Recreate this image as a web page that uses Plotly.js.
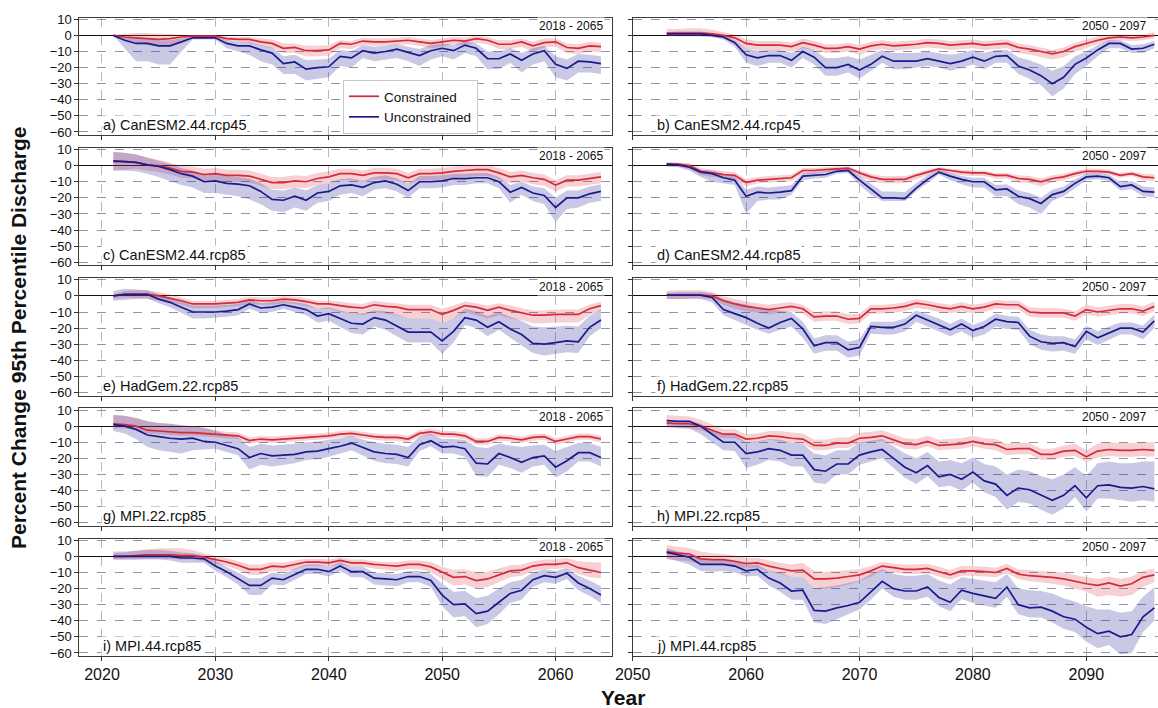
<!DOCTYPE html>
<html><head><meta charset="utf-8">
<script src="https://cdn.plot.ly/plotly-3.0.1.min.js"></script>
<style>body{margin:0;padding:0;background:#fff}#chart{width:1158px;height:708px}</style>
</head><body><div id="chart"></div>
<script>
// Years
const yearsLeft = [2021,2022,2023,2024,2025,2026,2027,2028,2029,2030,2031,2032,2033,2034,2035,2036,2037,2038,2039,2040,2041,2042,2043,2044,2045,2046,2047,2048,2049,2050,2051,2052,2053,2054,2055,2056,2057,2058,2059,2060,2061,2062,2063,2064];
const yearsRight = [2053,2054,2055,2056,2057,2058,2059,2060,2061,2062,2063,2064,2065,2066,2067,2068,2069,2070,2071,2072,2073,2074,2075,2076,2077,2078,2079,2080,2081,2082,2083,2084,2085,2086,2087,2088,2089,2090,2091,2092,2093,2094,2095,2096];
const ticksLeft = [2020,2030,2040,2050,2060];
const ticksRight = [2050,2060,2070,2080,2090];
const yTicks = [10,0,-10,-20,-30,-40,-50,-60];

// a) CanESM2.44.rcp45 (2018-2065)
const a_con    = [0,-1,-1.5,-2,-2.5,-2,-1,-0.5,-0.5,-0.5,-2,-2.5,-2.5,-4,-5,-8,-7.5,-9.5,-9.5,-9,-5,-5.5,-3.5,-4,-4,-3.5,-3,-4,-5,-4,-3,-3.5,-2,-3,-5.5,-5.5,-4,-6.5,-4.5,-4,-7.5,-8,-6.5,-7];
const a_con_hi = [0.5,1,1.5,1.5,1,1,0.5,0,0,0,-0.5,-1,-1,-2,-2.5,-5,-5,-6.5,-6.5,-6,-3,-3.5,-1.5,-2,-2,-1.5,-1,-2,-3,-2,-1,-1.5,0,-1,-3,-3,-2,-4,-2,-2,-5,-5.5,-4,-4.5];
const a_con_lo = [-0.5,-3,-5,-6,-7,-7,-3,-1.5,-1.5,-1.5,-3.5,-4,-4.5,-6.5,-8,-11,-11,-13,-13,-12.5,-8,-8.5,-6,-6.5,-6.5,-6,-5.5,-6.5,-8,-7,-5.5,-6,-4.5,-5.5,-8.5,-8.5,-7,-10,-7.5,-7,-11,-11.5,-10,-10.5];
const a_unc    = [0,-3,-5,-5,-6.5,-6.5,-4,-1.5,-1.5,-1.5,-5,-6.5,-6.5,-9,-11,-17.5,-16.5,-21,-20,-19.5,-13,-14,-9.5,-11,-10,-8.5,-10.5,-12.5,-9.5,-8,-9.5,-6,-8,-14.5,-14.5,-11.5,-15.5,-11.5,-9.5,-18,-20.5,-16,-16.5,-17.5];
const a_unc_hi = [0.5,-1,-2,-2,-3,-3,-2,-0.5,-0.5,-0.5,-3,-4,-4,-6,-7.5,-13,-12,-15.5,-15,-14.5,-9,-10,-6,-7,-6.5,-5.5,-7,-8.5,-6,-5,-6,-3.5,-5,-10,-10,-8,-11,-8,-6.5,-13,-15,-11.5,-12,-13];
const a_unc_lo = [0,-8,-16,-16,-18,-18,-10,-2.5,-2.5,-2.5,-8,-10,-12,-16,-18,-24,-24,-28,-27,-26,-19,-20,-14,-16,-15,-14,-16,-19,-15,-13,-15,-11,-13,-21,-21,-17,-23,-18,-16,-26,-28,-23,-23,-24];

// b) CanESM2.44.rcp45 (2050-2097)
const b_con    = [1.5,1.5,1.5,1.5,1,0,-1.5,-5,-6,-6,-6,-7,-4.5,-6,-8,-8,-7,-8.5,-6.5,-5.5,-6.5,-6,-5.5,-4.5,-5,-6,-5.5,-5,-6,-5.5,-5,-7.5,-8.5,-10,-11.5,-10,-7,-5,-3,-1.5,-1,-1.5,-1,0];
const b_con_hi = [4,4,4.5,4.5,3.5,2,0.5,-2.5,-3.5,-3.5,-3.5,-4.5,-2,-3.5,-5.5,-5.5,-4.5,-6,-4,-3,-4,-3.5,-3,-2,-2.5,-3.5,-3,-2.5,-3.5,-3,-2.5,-5,-6,-7.5,-9,-7.5,-4.5,-2.5,-0.5,0.5,1,0.5,1,2];
const b_con_lo = [-0.5,-0.5,-0.5,-0.5,-1,-2,-4,-8,-9,-9,-9,-10,-8,-9,-11,-11,-10,-12,-9.5,-8.5,-9.5,-9,-8.5,-7.5,-8,-9,-8.5,-8,-9,-8.5,-8,-11,-12,-13.5,-15,-13.5,-10,-8,-5.5,-4,-3,-3.5,-3,-2];
const b_unc    = [1,1,1,1,0,-1,-4.5,-12,-14,-12.5,-12.5,-15.5,-10,-13.5,-20,-20,-18,-21.5,-18,-13,-16,-16,-16,-14.5,-16,-17.5,-16,-13.5,-16,-13,-12.5,-19,-21.5,-25,-30,-26,-18,-14,-9,-5,-5,-8.5,-8,-5.5];
const b_unc_hi = [2,2.5,2.5,2.5,1.5,0,-3,-8,-9.5,-9,-9,-11,-7,-9,-14,-14,-13,-15,-12,-9,-11,-11,-11,-10,-11,-12,-11,-9,-11,-9,-9,-13.5,-15.5,-18,-22,-19,-13,-10,-6,-3,-3,-6,-5.5,-3.5];
const b_unc_lo = [0,-0.5,-0.5,-0.5,-1,-2.5,-7,-17,-19,-17,-17,-20,-14,-18,-25,-25,-23,-27,-22,-17,-21,-21,-20,-19,-20,-22,-20,-18,-21,-17,-17,-24,-27,-31,-38,-33,-24,-19,-13,-8,-8,-11,-11,-8];

// c) CanESM2.44.rcp85 (2018-2065)
const c_con    = [2.5,2.5,2,0.5,0,-1.5,-3.5,-4,-5.5,-5,-6,-6,-6.5,-8.5,-10.5,-10.5,-9.5,-10,-8,-7,-5,-5,-6,-4.5,-4.5,-5,-7.5,-5,-5,-4.5,-3.5,-3,-2.5,-2.5,-4.5,-7,-6,-7.5,-8.5,-12,-9,-9,-8,-7];
const c_con_hi = [8.5,8,7,5,3.5,2,0,-0.5,-2,-1.5,-2.5,-2.5,-3,-5,-7,-7,-6,-6.5,-4.5,-3.5,-2,-2,-3,-1.5,-1.5,-2,-4.5,-2,-2,-1.5,-0.5,0,0.5,0.5,-1.5,-4,-3,-4.5,-5.5,-9,-6,-6,-5,-4];
const c_con_lo = [-3,-2.5,-2,-3,-4,-5.5,-7.5,-8,-9.5,-9,-10,-10,-10.5,-12.5,-14.5,-14.5,-13.5,-14,-12,-11,-9,-9,-10,-8.5,-8.5,-9,-11.5,-9,-9,-8.5,-7.5,-7,-6.5,-6.5,-8.5,-11,-10,-11.5,-12.5,-16,-13,-13,-12,-11];
const c_unc    = [3,2.5,2,0.5,-0.5,-2.5,-5,-6.5,-10,-9.5,-11,-11.5,-12.5,-16,-21,-21.5,-19,-21.5,-17,-16,-12.5,-12,-13.5,-10.5,-9.5,-11.5,-15.5,-10,-10,-9.5,-8,-8,-7.5,-7.5,-10,-16.5,-13.5,-17,-18.5,-26,-20,-20,-17.5,-16];
const c_unc_hi = [8.5,8,7,5,3,1,-1.5,-3,-5.5,-5,-6.5,-7,-8,-11,-15,-15.5,-13.5,-15.5,-12,-11,-8.5,-8,-9.5,-7,-6,-8,-11.5,-6.5,-6.5,-6,-5,-5,-4.5,-4.5,-7,-12,-10,-13,-14,-20,-15.5,-15.5,-13,-11.5];
const c_unc_lo = [-3,-3,-3.5,-5,-7,-9.5,-12,-13.5,-17,-17,-18,-19,-21,-24,-28,-29,-26,-28,-23,-22,-18,-17,-19,-15,-14,-16,-20,-14,-14,-13.5,-12,-12,-11,-11,-14,-23,-18,-22,-24,-35,-27,-26,-23,-22];

// d) CanESM2.44.rcp85 (2050-2097)
const d_con    = [1,1,0,-3.5,-4.5,-5.5,-6,-10.5,-9,-8.5,-8,-7.5,-3,-3,-2.5,-2,-1.5,-4.5,-7,-8.5,-8.5,-8.5,-6,-4,-2,-3,-4,-4.5,-4.5,-6,-6,-8,-8.5,-10,-8,-7,-5,-3.5,-3.5,-4,-6,-5,-7,-7.5];
const d_con_hi = [2,2,1.5,-1.5,-2.5,-3.5,-4,-8.5,-7,-6.5,-6,-5.5,-1.5,-1.5,-1,-0.5,-0.5,-3,-5,-6.5,-6.5,-6.5,-4.5,-2.5,-1,-2,-2.5,-3,-3,-4.5,-4.5,-6,-6.5,-8,-6,-5,-3.5,-2,-2,-2.5,-4.5,-3.5,-5,-5.5];
const d_con_lo = [-0.5,-0.5,-2,-6,-7,-8,-8.5,-13,-11,-10.5,-10,-9.5,-5,-5,-4,-3.5,-3,-7,-9.5,-11,-11,-11,-8.5,-6,-3.5,-5,-6,-6.5,-6.5,-8,-8,-10.5,-11,-13,-10.5,-9,-7,-5.5,-5,-5.5,-7.5,-6.5,-9,-9.5];
const d_unc    = [1,0.5,-1,-4,-5,-7.5,-9,-19,-16.5,-17,-16.5,-15.5,-6.5,-6,-5.5,-3.5,-3,-9,-14.5,-20,-20,-20.5,-14,-8.5,-4,-6.5,-8.5,-10,-10,-15,-14.5,-19,-20.5,-23.5,-18,-16,-11,-7,-6.5,-7.5,-13,-12,-16,-16.5];
const d_unc_hi = [2,1.5,0.5,-2.5,-3,-5,-6.5,-15,-13,-13.5,-13,-12,-4.5,-4,-3.5,-2,-1.5,-6.5,-11,-16,-16,-16.5,-11,-6,-2.5,-4.5,-6.5,-7.5,-7.5,-12,-11.5,-15.5,-17,-20,-15,-13,-8.5,-5,-4.5,-5.5,-10.5,-9.5,-13,-13.5];
const d_unc_lo = [-0.5,-1,-3,-7,-10,-11,-12,-30,-22,-21,-21,-18,-9,-8,-7.5,-5,-4.5,-12,-18,-22,-22,-22,-16,-10.5,-5.5,-9,-11.5,-13.5,-13.5,-19,-19,-24,-26,-30,-22,-19,-14,-9,-8.5,-9.5,-15.5,-14.5,-19,-19.5];

// e) HadGem.22.rcp85 (2018-2065)
const e_con    = [0,1,1,1,0,-1.5,-3,-5,-5,-5,-4.5,-4,-2.5,-3,-3,-2,-2.5,-3.5,-5,-5,-6,-7,-7.5,-5.5,-6.5,-7,-8.5,-8.5,-8.5,-11.5,-9,-6,-7,-9,-7,-9,-10.5,-12,-12,-11.5,-11.5,-11.5,-8,-6];
const e_con_hi = [1,3,3.5,3.5,2.5,1,-1,-3,-3,-3,-2.5,-2,-0.5,-1,-1,0,-0.5,-1.5,-3,-3,-3.5,-4.5,-5,-3,-4,-4.5,-5.5,-5.5,-5.5,-8,-6,-3.5,-4.5,-6,-4.5,-6,-7.5,-9,-9,-8.5,-8.5,-8.5,-5.5,-3.5];
const e_con_lo = [-2,-1,-1.5,-2,-3,-4,-5.5,-7.5,-7.5,-7.5,-7,-6.5,-5,-5.5,-5.5,-4.5,-5,-6.5,-8,-8,-10,-11,-12,-10,-11,-12,-14,-14,-14,-17,-14,-10,-12,-14,-12,-14,-15,-17,-17,-16.5,-16.5,-16.5,-12,-9];
const e_unc    = [0,1,1,1,-2,-4,-7,-10,-10,-10,-9.5,-8.5,-5,-7.5,-7,-5.5,-7,-8.5,-12.5,-11,-14,-17,-17.5,-13.5,-15,-18.5,-22.5,-22.5,-22.5,-28,-22,-13.5,-15,-19.5,-16,-20.5,-24,-29.5,-30,-29,-28,-28.5,-19.5,-15];
const e_unc_hi = [3,4.5,4,3.5,1,-1,-3.5,-6,-6,-6,-5.5,-5,-2.5,-4.5,-4,-3,-4,-5,-8,-7,-9,-11,-11,-9,-9.5,-11.5,-14,-14,-14,-17,-14,-8,-9.5,-12.5,-10,-13,-15.5,-19,-19.5,-19,-18.5,-19,-12.5,-8.5];
const e_unc_lo = [-3,-2.5,-2,-1.5,-4.5,-7,-10.5,-14,-14,-13.5,-13,-12,-8,-10.5,-10,-8,-10,-12,-16.5,-15.5,-19.5,-23,-24,-19,-21,-25,-29,-29,-29,-36,-29,-18,-20,-25,-21,-26,-31,-35.5,-37,-36,-35,-35.5,-25,-20];

// f) HadGem.22.rcp85 (2050-2097)
const f_con    = [0.5,0.5,0.5,0.5,0,-3,-5,-6.5,-7.5,-8.5,-7.5,-6.5,-8,-13,-12.5,-12.5,-14.5,-14,-8,-8,-7.5,-6.5,-4.5,-5.5,-7,-8,-6.5,-8,-7,-5,-5.5,-5.5,-10,-10.5,-10.5,-10.5,-12.5,-8.5,-10,-9,-8,-8,-9.5,-6.5];
const f_con_hi = [3,3.5,3.5,3.5,2.5,0,-2,-3.5,-4.5,-5.5,-4.5,-4,-5.5,-10,-9.5,-9.5,-11.5,-11,-5.5,-5.5,-5,-4,-2,-3,-4.5,-5.5,-4,-5.5,-4.5,-2.5,-3,-3,-7,-7.5,-7.5,-8,-9.5,-5.5,-7,-6,-5,-5,-6.5,-3.5];
const f_con_lo = [-2,-2,-1.5,-1.5,-2,-5.5,-8,-9.5,-10.5,-11.5,-10.5,-9.5,-11,-16,-15.5,-15.5,-17.5,-17,-11,-11,-10.5,-9.5,-7.5,-8.5,-10,-11,-9.5,-11,-10,-8,-8.5,-8.5,-13,-13.5,-13.5,-13.5,-15.5,-11.5,-13,-12,-11,-11,-12.5,-9.5];
const f_unc    = [0.5,0.5,0.5,0.5,-1,-8.5,-11,-13.5,-17,-20,-16.5,-14,-20.5,-31,-29,-29,-33.5,-32,-19,-19.5,-19.5,-17.5,-12,-15,-17.5,-21,-17.5,-21.5,-19,-14.5,-16,-16.5,-25,-28.5,-29.5,-29,-31.5,-22,-26,-23,-20,-20,-22.5,-15.5];
const f_unc_hi = [2,2.5,2.5,2.5,1.5,-2,-4,-5.5,-7,-8.5,-9,-10,-16,-26.5,-24.5,-24.5,-28.5,-27,-16,-16,-16,-14,-9,-11.5,-14,-17.5,-14,-18,-15.5,-11,-12.5,-13,-21,-24,-25,-25,-27,-18.5,-22,-19,-16.5,-16.5,-18.5,-11.5];
const f_unc_lo = [-2,-2,-2,-2,-4,-12,-15,-18,-21,-23.5,-21,-19,-26,-36,-34,-34,-38.5,-37,-23.5,-24,-24,-22,-16,-19.5,-22,-25,-22,-26,-24,-19,-20.5,-21,-30,-33.5,-34.5,-34,-36,-27,-30.5,-27.5,-24,-24,-27,-20];

// g) MPI.22.rcp85 (2018-2065)
const g_con    = [1.5,1,0,-2.5,-3,-3.5,-4,-4,-4.5,-5,-5.5,-6,-9,-8,-8.5,-8,-7.5,-7,-6.5,-6,-5,-4.5,-5.5,-6.5,-7,-7,-8,-4.5,-3.5,-5,-5,-6,-9.5,-9.5,-7,-7.5,-8.5,-7,-6.5,-9.5,-8,-6.5,-6.5,-8];
const g_con_hi = [7,6.5,5,3,2,1.5,0.5,0,-1,-2.5,-3.5,-4,-7,-6,-6.5,-6,-5.5,-5,-4.5,-4,-3,-2.5,-3.5,-4.5,-5,-5,-6,-2.5,-1.5,-3,-3,-4,-7.5,-7.5,-5,-5.5,-6.5,-5,-4.5,-7.5,-6,-4.5,-4.5,-6];
const g_con_lo = [-1.5,-1.5,-2.5,-4.5,-5,-5.5,-6,-6,-6.5,-7,-7.5,-8,-11,-10,-10.5,-10,-9.5,-9,-8.5,-8,-7,-6.5,-7.5,-8.5,-9,-9,-10,-6.5,-5.5,-7,-7,-8,-11.5,-11.5,-9,-9.5,-10.5,-9,-8.5,-11.5,-10,-8.5,-8.5,-10];
const g_unc    = [1,0,-2,-5.5,-6.5,-7.5,-8,-7.5,-9.5,-10,-12,-14,-19.5,-17,-18.5,-18,-17.5,-16,-15.5,-14,-12.5,-10.5,-13.5,-16,-17,-17.5,-19.5,-11.5,-9,-13,-12.5,-14,-23,-23.5,-17,-19.5,-22.5,-19.5,-18.5,-25.5,-21.5,-16.5,-16.5,-19.5];
const g_unc_hi = [7,6.5,5,3,2,1.5,0.5,0,-1,-3,-5,-7,-13,-11,-12,-11.5,-11,-10,-9.5,-8.5,-7.5,-6,-8.5,-10,-11,-11.5,-13,-6.5,-4.5,-8,-8,-8.5,-13,-13.5,-11,-12,-13,-12,-11.5,-15.5,-13,-10.5,-10.5,-13];
const g_unc_lo = [-3,-4.5,-8,-13,-15,-16,-17,-15,-14.5,-14,-16,-18,-27,-24,-25,-24,-23,-21,-20.5,-19,-17,-15,-18.5,-21.5,-23,-23.5,-25,-15.5,-12.5,-17,-17,-19,-31,-31.5,-24,-26,-29,-25,-24,-32,-28,-22,-22,-25];

// h) MPI.22.rcp85 (2050-2097)
const h_con    = [2,1.5,1.5,0,-2.5,-5,-5,-8,-7.5,-6,-6.5,-7.5,-8,-12,-12,-10.5,-10.5,-7.5,-7,-6,-8.5,-11,-11.5,-9.5,-12,-11.5,-11,-9.5,-11,-11.5,-14.5,-14,-14,-17.5,-17.5,-15.5,-15,-19,-15.5,-14.5,-15,-15,-14.5,-15];
const h_con_hi = [7,6.5,6,4,1,-2,-2,-5,-4.5,-3,-3,-4,-4.5,-8.5,-8.5,-7,-7,-4,-3.5,-2.5,-5,-7.5,-8,-6,-8.5,-8,-7.5,-6,-7.5,-8,-11,-10.5,-10.5,-14,-14,-12,-11,-15,-11,-10,-10.5,-10.5,-10,-10];
const h_con_lo = [-1,-1.5,-1.5,-2.5,-5,-7.5,-7.5,-10.5,-10,-8.5,-9.5,-10.5,-11,-15,-15,-13.5,-13.5,-10.5,-10,-9,-11.5,-14,-14.5,-12.5,-15,-14.5,-14,-12.5,-14,-15,-18,-17.5,-17.5,-21,-21,-19,-18.5,-22.5,-19.5,-18.5,-19,-19,-18.5,-19];
const h_unc    = [3.5,3,3,0,-5,-10,-10,-17,-16,-14,-15,-18,-18,-27,-28,-23.5,-23.5,-18,-16,-14.5,-20,-25.5,-29,-24.5,-31.5,-30,-33,-28.5,-34,-36,-43,-38.5,-39.5,-43,-46,-43,-37,-44.5,-37,-36.5,-38,-38.5,-37.5,-39];
const h_unc_hi = [4,3.5,3.5,1.5,-2,-5.5,-5.5,-10,-9.5,-8,-8.5,-10.5,-11,-17,-18,-15,-15,-10,-9,-8,-12.5,-17,-20,-16,-22,-21,-23,-19.5,-23.5,-25,-30,-27,-28,-31,-33,-30,-25.5,-31,-23,-22,-23,-23,-22,-22];
const h_unc_lo = [0,-1,-1.5,-5,-10,-15,-15.5,-26,-24,-21,-22,-25,-25,-35,-36,-30,-30,-24,-22,-20,-26,-32,-36,-31,-38,-37,-40,-35,-41,-44,-52,-47,-48,-52,-55,-51,-44,-53,-45,-45,-46,-47,-46,-47];

// i) MPI.44.rcp85 (2018-2065)
const i_con    = [0,0,0.5,1,1,1,0.5,0.5,-0.5,-2,-3.5,-5.5,-8,-8,-6,-6.5,-5,-3.5,-3.5,-4,-2.5,-4,-4,-5,-5.5,-6,-5,-5,-6.5,-10,-13,-12.5,-15,-14,-11.5,-9,-8.5,-6,-5,-5,-4,-7,-8.5,-10];
const i_con_hi = [2,2.5,3.5,4.5,5,5,5,4,2,0.5,-1,-3,-5,-5,-3.5,-4,-2.5,-1.5,-1.5,-2,-0.5,-2,-2,-3,-3.5,-3.5,-2.5,-2.5,-3.5,-6.5,-8.5,-8,-10,-9.5,-7.5,-5.5,-5,-3,-2,-2,-1,-3,-3.5,-4];
const i_con_lo = [-2,-2,-2,-1.5,-1.5,-1.5,-2,-2,-3,-4.5,-6,-8.5,-11.5,-11.5,-9,-9.5,-8,-6,-6,-6.5,-5,-6.5,-6.5,-7.5,-8.5,-9,-8,-8,-10,-14,-18,-17.5,-20,-19,-16,-13,-12,-9,-8,-8,-7,-11,-13,-13.5];
const i_unc    = [0,0,0,0,0,0,-1,-1,-1.5,-6,-9.5,-13.5,-18,-18,-13.5,-14.5,-11,-8,-8,-9.5,-6,-9.5,-9.5,-13.5,-14,-14.5,-12.5,-12.5,-15,-24,-30,-29.5,-35.5,-34,-28.5,-23,-21,-14.5,-12,-13,-10.5,-16.5,-20,-24];
const i_unc_hi = [3,3,3.5,4,4,3.5,2.5,2,0.5,-3,-6.5,-10,-13.5,-13.5,-10,-11,-7.5,-5,-5,-6.5,-3.5,-6.5,-6.5,-10,-10.5,-11,-9,-9,-11,-17,-22,-21.5,-26,-24.5,-20,-16,-14.5,-10,-8,-9,-7,-12,-15,-18.5];
const i_unc_lo = [-2,-2,-2,-2,-2,-2.5,-4,-4,-4,-9,-13,-17.5,-24,-24,-17.5,-18,-14.5,-11,-11,-12.5,-9,-13,-13,-17.5,-18,-18.5,-16,-16,-19,-31,-38,-37,-44,-42,-36,-29,-27,-19,-16,-17,-14,-21,-24.5,-29];

// j) MPI.44.rcp85 (2050-2097)
const j_con    = [3,2,1.5,-1.5,-2,-2,-3,-4.5,-4,-6,-7.5,-9,-8.5,-14,-14,-13.5,-12.5,-11.5,-9,-6,-7,-8,-8,-7.5,-9.5,-11.5,-9,-9,-9.5,-10,-7.5,-11,-12,-12.5,-13,-14,-15.5,-17,-18,-16.5,-18.5,-17,-13,-11.5];
const j_con_hi = [7,6,5,3,2,1.5,0.5,-1,-1,-2.5,-4,-5,-4,-9,-9.5,-9,-8.5,-8,-6,-3.5,-4.5,-5,-5,-4.5,-6.5,-8.5,-6,-6,-6.5,-7,-4.5,-8,-8.5,-9,-9.5,-10,-11.5,-13,-14,-12.5,-14,-12.5,-9,-7.5];
const j_con_lo = [-2,-2.5,-3,-4.5,-5,-5,-6,-7.5,-7,-9.5,-11,-13,-13,-20,-20,-19,-17.5,-15.5,-12.5,-9,-10,-11,-11,-10.5,-12.5,-14.5,-12,-12,-12.5,-13,-10.5,-14,-15.5,-16,-17,-18,-20,-22,-25,-24,-25,-24,-19,-16];
const j_unc    = [2.5,1,-0.5,-5,-5,-5,-6,-9,-8,-13.5,-16.5,-21.5,-21,-33.5,-34,-32,-30.5,-28.5,-22,-15.5,-20,-21.5,-21.5,-19,-25.5,-28.5,-21,-23,-24.5,-26,-19,-30,-32,-31.5,-34,-37.5,-39,-44,-48,-46.5,-50,-48.5,-37.5,-32];
const j_unc_hi = [5,3,1.5,-2,-2,-2,-3,-5.5,-5,-9,-10,-13,-13,-20,-19,-18,-16.5,-15,-11,-8,-11,-12,-12,-11,-15,-17.5,-13,-14,-15,-16,-11,-20,-21,-21.5,-23,-26,-28,-31,-33,-33,-35,-34,-25,-19];
const j_unc_lo = [-1,-3,-5,-9,-9.5,-9,-10,-12.5,-12,-18,-22,-27,-27,-41,-42,-39,-36,-33,-27,-20,-25,-27,-27,-25,-31,-34,-26.5,-29,-30.5,-32,-25,-36,-38,-38,-41,-45,-47,-53,-57,-55,-61,-60,-47,-40];

const panelLabels = ['a) CanESM2.44.rcp45','b) CanESM2.44.rcp45','c) CanESM2.44.rcp85','d) CanESM2.44.rcp85','e) HadGem.22.rcp85','f) HadGem.22.rcp85','g) MPI.22.rcp85','h) MPI.22.rcp85','i) MPI.44.rcp85','j) MPI.44.rcp85'];
const periodLabels = ['2018 - 2065','2050 - 2097'];
const seriesNames = ['Constrained','Unconstrained'];

const panelData = [
  [a_con,a_con_hi,a_con_lo,a_unc,a_unc_hi,a_unc_lo],
  [b_con,b_con_hi,b_con_lo,b_unc,b_unc_hi,b_unc_lo],
  [c_con,c_con_hi,c_con_lo,c_unc,c_unc_hi,c_unc_lo],
  [d_con,d_con_hi,d_con_lo,d_unc,d_unc_hi,d_unc_lo],
  [e_con,e_con_hi,e_con_lo,e_unc,e_unc_hi,e_unc_lo],
  [f_con,f_con_hi,f_con_lo,f_unc,f_unc_hi,f_unc_lo],
  [g_con,g_con_hi,g_con_lo,g_unc,g_unc_hi,g_unc_lo],
  [h_con,h_con_hi,h_con_lo,h_unc,h_unc_hi,h_unc_lo],
  [i_con,i_con_hi,i_con_lo,i_unc,i_unc_hi,i_unc_lo],
  [j_con,j_con_hi,j_con_lo,j_unc,j_unc_hi,j_unc_lo]
];

const W = 1158, H = 708;
const FONT = 'Liberation Sans, Arial, Helvetica, sans-serif';
const RED = '#d42a3a', BLUE = '#1a1a8e';
const RED_FILL = 'rgba(214,40,55,0.22)', BLUE_FILL = 'rgba(40,40,150,0.25)';

const colPx = [[79.3, 612.3],[632.7, 1158]];
const colRange = [[2018, 2065],[2050, 2050 + (1158-632.7)/ (533/47)]];
const rowTop0 = 17.7, rowPitch = 130.25, rowH = 117.5;

const traces = [];
const layout = {
  width: W, height: H,
  margin: {l:0, r:0, t:0, b:0},
  paper_bgcolor: '#ffffff', plot_bgcolor: '#ffffff',
  font: {family: FONT, color: '#111', size: 12},
  showlegend: true,
  legend: {x: 343/W, y: 1 - 80/H, xanchor: 'left', yanchor: 'top',
    bgcolor: '#ffffff', bordercolor: '#c8c8c8', borderwidth: 1,
    font: {family: FONT, size: 13.5, color: '#111'}, itemwidth: 30, tracegroupgap: 0},
  annotations: [],
  hovermode: false
};

function rev(a){ return a.slice().reverse(); }

for (let k = 0; k < 10; k++) {
  const row = Math.floor(k/2), col = k % 2;
  const n = k + 1;
  const xa = 'x' + (n === 1 ? '' : n), ya = 'y' + (n === 1 ? '' : n);
  const xs = col === 0 ? yearsLeft : yearsRight;
  const d = panelData[k];
  traces.push({x: xs.concat(rev(xs)), y: d[1].concat(rev(d[2])), xaxis: xa, yaxis: ya, fill: 'toself',
    fillcolor: RED_FILL, line: {width: 0}, mode: 'lines', showlegend: false, hoverinfo: 'skip'});
  traces.push({x: xs.concat(rev(xs)), y: d[4].concat(rev(d[5])), xaxis: xa, yaxis: ya, fill: 'toself',
    fillcolor: BLUE_FILL, line: {width: 0}, mode: 'lines', showlegend: false, hoverinfo: 'skip'});
  traces.push({x: xs, y: d[0], xaxis: xa, yaxis: ya, mode: 'lines', name: seriesNames[0],
    line: {color: RED, width: 1.7}, showlegend: k === 0});
  traces.push({x: xs, y: d[3], xaxis: xa, yaxis: ya, mode: 'lines', name: seriesNames[1],
    line: {color: BLUE, width: 1.7}, showlegend: k === 0});

  const top = rowTop0 + rowPitch*row, bot = top + rowH;
  const xKey = 'xaxis' + (n === 1 ? '' : n), yKey = 'yaxis' + (n === 1 ? '' : n);
  layout[xKey] = {
    domain: [colPx[col][0]/W, colPx[col][1]/W], range: colRange[col], anchor: ya,
    tickmode: 'array', tickvals: col === 0 ? ticksLeft : ticksRight,
    showticklabels: row === 4, ticks: 'outside', ticklen: 4, tickwidth: 1, tickcolor: '#333',
    tickfont: {family: FONT, size: 16, color: '#111'},
    showgrid: true, gridcolor: '#a3a6b4', gridwidth: 0.8, griddash: 'dash',
    zeroline: false, showline: true, linecolor: '#3a3a3a', linewidth: 1, mirror: true
  };
  layout[yKey] = {
    domain: [1 - bot/H, 1 - top/H], range: [-62, 11], anchor: xa,
    tickmode: 'array', tickvals: yTicks, showticklabels: col === 0,
    ticks: 'outside', ticklen: 4, tickwidth: 1, tickcolor: '#333',
    tickfont: {family: FONT, size: 13, color: '#111'},
    showgrid: true, gridcolor: '#858a9e', gridwidth: 0.9, griddash: 'dash',
    zeroline: true, zerolinecolor: '#111', zerolinewidth: 1,
    showline: true, linecolor: '#3a3a3a', linewidth: 1, mirror: true
  };
  const pw = colPx[col][1] - colPx[col][0];
  layout.annotations.push({xref: xa + ' domain', yref: ya + ' domain', x: 22/pw, y: 10/rowH,
    xanchor: 'left', yanchor: 'middle', text: panelLabels[k], showarrow: false,
    bgcolor: '#ffffff', borderpad: 1, font: {family: FONT, size: 14.5, color: '#111'}});
  const rightEdge = col === 0 ? 605 : 1148;
  layout.annotations.push({xref: xa + ' domain', yref: ya + ' domain', x: (rightEdge - colPx[col][0])/pw, y: 1 - 8.5/rowH,
    xanchor: 'right', yanchor: 'middle', text: periodLabels[col], showarrow: false,
    bgcolor: '#ffffff', borderpad: 1, font: {family: FONT, size: 12, color: '#111'}});
}

layout.annotations.push({xref: 'paper', yref: 'paper', x: 18/W, y: 1 - 338/H, textangle: -90,
  xanchor: 'center', yanchor: 'middle', showarrow: false,
  text: '<b>Percent Change 95th Percentile Discharge</b>', font: {family: FONT, size: 21, color: '#111'}});
layout.annotations.push({xref: 'paper', yref: 'paper', x: 623/W, y: 1 - 697/H,
  xanchor: 'center', yanchor: 'middle', showarrow: false,
  text: '<b>Year</b>', font: {family: FONT, size: 21, color: '#111'}});

Plotly.newPlot('chart', traces, layout, {displayModeBar: false, staticPlot: true});
</script>
</body></html>
